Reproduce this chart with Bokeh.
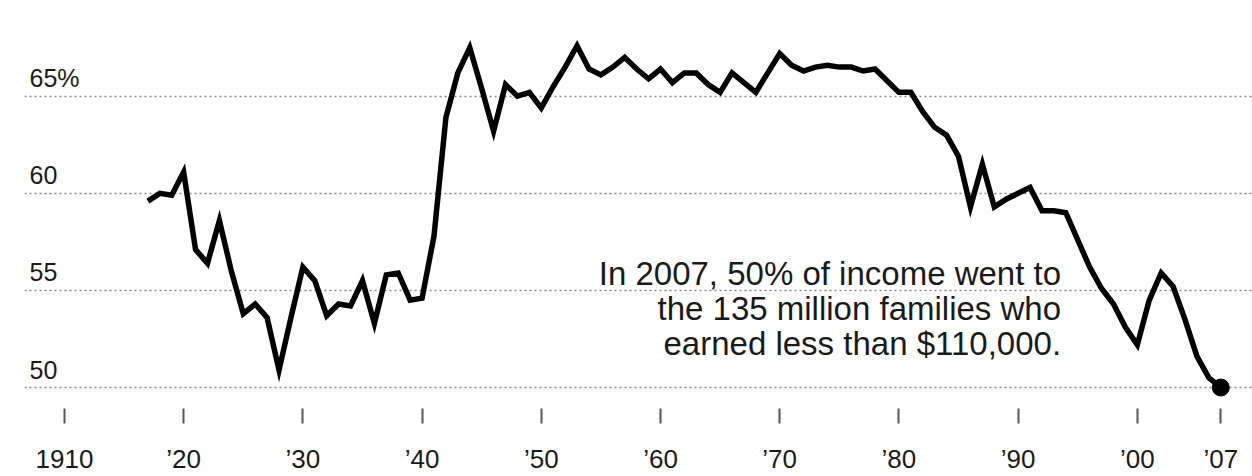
from bokeh.plotting import figure
from bokeh.models import FixedTicker, Label, Range1d
from bokeh.core.properties import value
from bokeh.embed import file_html
from bokeh.resources import INLINE

# Share of total income going to the bottom 90% of families, by year
years = list(range(1917, 2008))
share = [
    59.6, 60.0, 59.9, 61.1, 57.1, 56.4, 58.6, 56.0, 53.8, 54.3,   # 1917-1926
    53.6, 50.9, 53.6, 56.2, 55.5, 53.7, 54.3, 54.2, 55.5, 53.3,   # 1927-1936
    55.8, 55.9, 54.5, 54.6, 57.8, 63.9, 66.2, 67.5, 65.4, 63.2,   # 1937-1946
    65.6, 65.0, 65.2, 64.4, 65.5, 66.5, 67.6, 66.4, 66.1, 66.5,   # 1947-1956
    67.0, 66.4, 65.9, 66.4, 65.7, 66.2, 66.2, 65.6, 65.2, 66.2,   # 1957-1966
    65.7, 65.2, 66.2, 67.2, 66.6, 66.3, 66.5, 66.6, 66.5, 66.5,   # 1967-1976
    66.3, 66.4, 65.8, 65.2, 65.2, 64.2, 63.4, 63.0, 61.9, 59.3,   # 1977-1986
    61.5, 59.3, 59.7, 60.0, 60.3, 59.1, 59.1, 59.0, 57.6, 56.2,   # 1987-1996
    55.1, 54.3, 53.1, 52.2, 54.5, 55.9, 55.2, 53.5, 51.6, 50.5,   # 1997-2006
    50.0,                                                          # 2007
]

x_ticks = [1910, 1920, 1930, 1940, 1950, 1960, 1970, 1980, 1990, 2000, 2007]
x_tick_labels = ["1910", "’20", "’30", "’40", "’50", "’60", "’70", "’80", "’90", "’00", "’07"]
y_ticks = [50, 55, 60, 65]
y_tick_labels = ["50", "55", "60", "65%"]

note_lines = [
    "In 2007, 50% of income went to",
    "the 135 million families who",
    "earned less than $110,000.",
]
note_year = 1993.6
note_levels = [55.85, 54.05, 52.25]

FONT = "Liberation Sans"
INK = "#1a1a1a"

p = figure(
    width=1252, height=476,
    x_range=Range1d(1906.65, 2009.66),
    y_range=Range1d(48.92, 69.93),
    output_backend="svg", toolbar_location=None,
    min_border_left=24, min_border_right=0,
    min_border_top=0, min_border_bottom=67,
    background_fill_color="white", border_fill_color="white",
    outline_line_color=None,
)

# horizontal dotted reference lines
p.yaxis.visible = False
p.ygrid.ticker = FixedTicker(ticks=y_ticks)
p.ygrid.grid_line_color = "#8a8a8a"
p.ygrid.grid_line_dash = "2 3"
p.ygrid.grid_line_width = 1.5
p.xgrid.visible = False

# year axis: detached short ticks and labels
xa = p.xaxis[0]
xa.ticker = FixedTicker(ticks=x_ticks)
xa.major_label_overrides = {t: s for t, s in zip(x_ticks, x_tick_labels)}
xa.axis_line_color = None
xa.major_tick_in = 0
xa.major_tick_out = 15
xa.major_tick_line_color = "#555555"
xa.major_tick_line_width = 2
xa.minor_tick_line_color = None
xa.major_label_standoff = 20
xa.major_label_text_font = FONT
xa.major_label_text_font_size = "26px"
xa.major_label_text_color = INK

# value labels sitting above each reference line
for t, s in zip(y_ticks, y_tick_labels):
    p.add_layout(Label(
        x=1907.07, y=t, text=s, y_offset=18,
        text_font=FONT, text_font_size="25px", text_color=INK,
        text_baseline="alphabetic", text_align="left",
    ))

p.line(years, share, line_color="black", line_width=5.5, line_join="miter")
p.scatter([years[-1]], [share[-1]], size=17, color="black")

p.text(
    x=[note_year] * len(note_lines), y=note_levels, text=note_lines,
    text_font=value(FONT), text_font_size="33px", text_color=INK,
    text_align="right", text_baseline="alphabetic",
)

open("out.html", "w").write(file_html(p, INLINE))
